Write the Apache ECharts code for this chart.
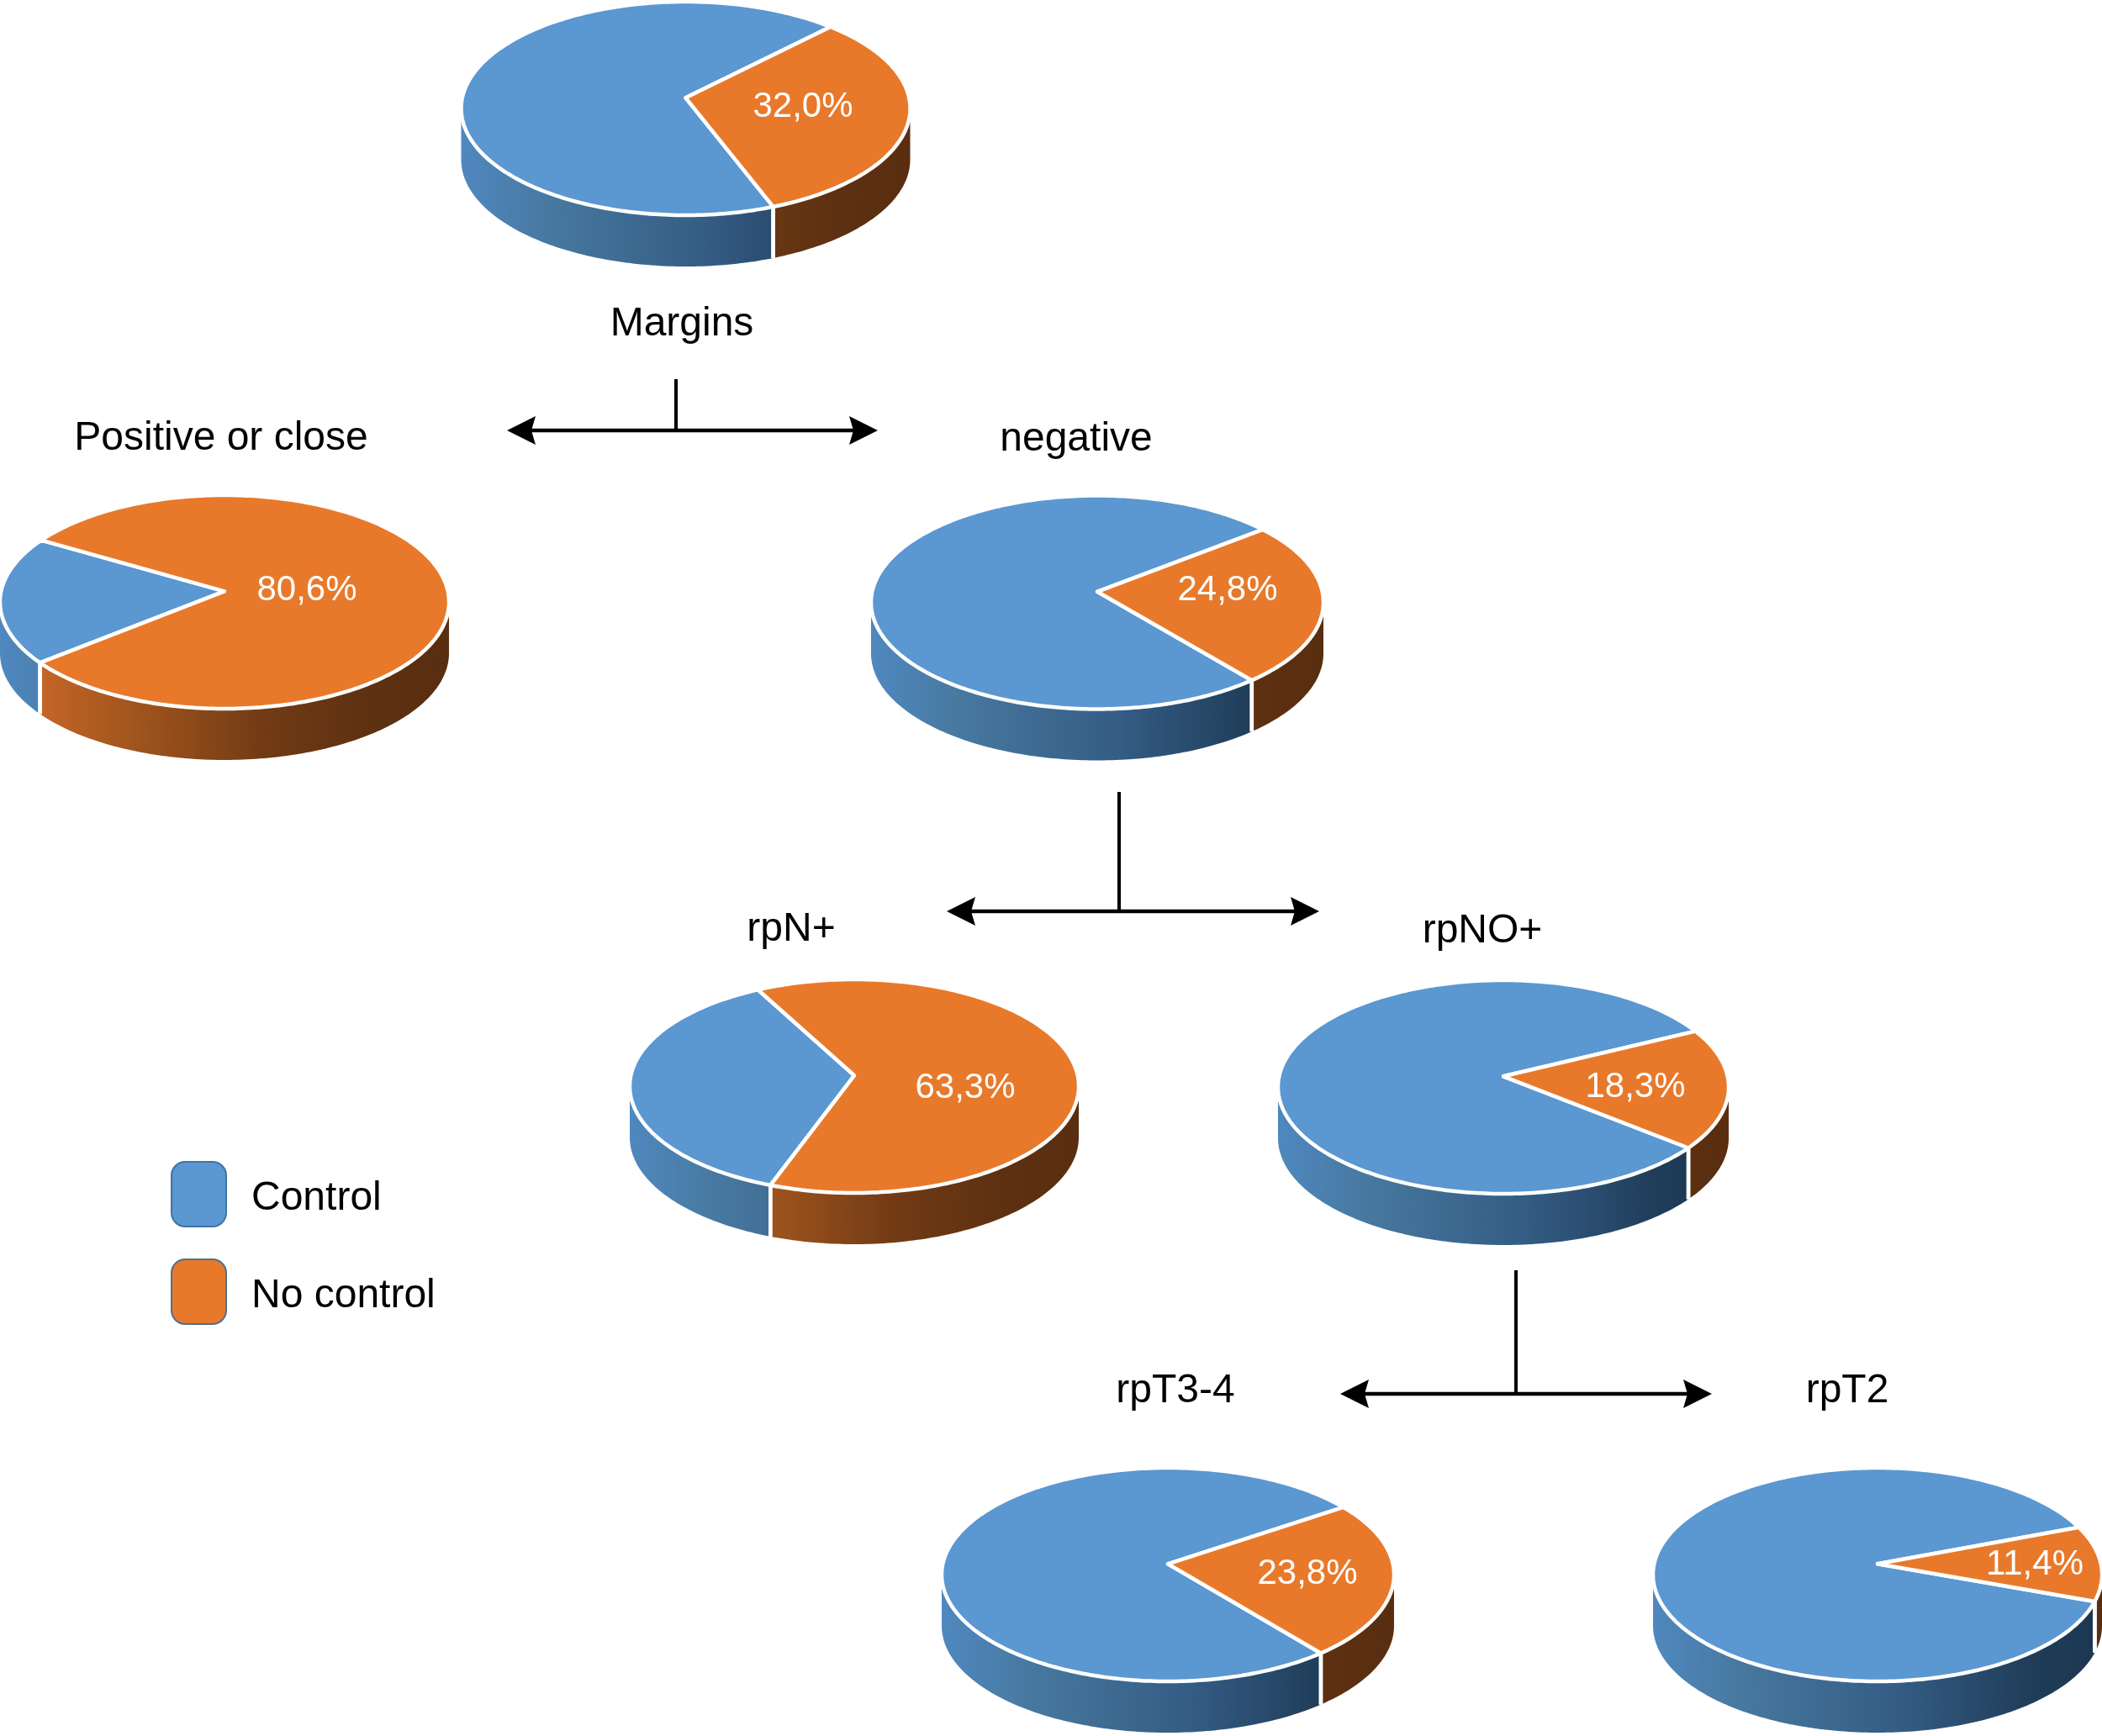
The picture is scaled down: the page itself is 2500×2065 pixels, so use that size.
<!DOCTYPE html>
<html>
<head>
<meta charset="utf-8">
<style>html,body{margin:0;padding:0;background:#fff}#c{width:2500px;height:2065px}</style>
<script src="https://cdn.jsdelivr.net/npm/echarts@6/dist/echarts.min.js"></script>
</head>
<body>
<div id="c"></div>
<script>
// ---- data ----
const pieNames = ['Margins', 'Positive or close', 'negative', 'rpN+', 'rpNO+', 'rpT3-4', 'rpT2'];
const noControl = [32.0, 80.6, 24.8, 63.3, 18.3, 23.8, 11.4];
const control = [68.0, 19.4, 75.2, 36.7, 81.7, 76.2, 88.6];
const seriesNames = ['Control', 'No control'];

// ---- layout (axis units) ----
const startAngle = [44, 300.5, 51.4, 332, 63.5, 55.5, 69];
const centerX = [815.5, 267, 1305, 1016, 1788, 1389, 2233];
const centerY = [129, 716, 716.5, 1292, 1293, 1873, 1873];
const radiusX = [267, 267, 269, 267, 268, 269, 267];
const radiusY = 127, depth = 61, tilt = 0.1;
const percentX = [955, 365, 1460, 1148, 1945, 1555, 2420];
const percentY = [127, 702, 702, 1294, 1293, 1872, 1861];
const nameX = [811, 263, 1280, 941, 1763, 1398, 2197];
const nameY = [386, 522, 523, 1106, 1108, 1655, 1655];
const arrowY = [512, 1084, 1658];
const arrowLeft = [603, 1126, 1594];
const arrowRight = [1044, 1569, 2036];
const stemX = [804, 1331, 1803];
const stemTop = [451, 942, 1511];

const topColor = ['#5b97d1', '#e8792b'];
const wallStops = [
  [[0, '#4f88bf'], [0.2, '#47789f'], [0.55, '#345c84'], [0.85, '#1f3c58'], [1, '#1c3750']],
  [[0, '#d26c2c'], [0.25, '#a9591f'], [0.6, '#703a14'], [0.85, '#5c3011'], [1, '#592e10']]
];

// Projects a true pie angle (deg, clockwise from north) onto the tilted top ellipse.
function project(i, deg) {
  const a = deg * Math.PI / 180, x = Math.sin(a), y = Math.cos(a), d = 1 + tilt * y;
  return [
    centerX[i] + radiusX[i] * x * Math.sqrt(1 - tilt * tilt) / d,
    centerY[i] - radiusY * (y + tilt) / d
  ];
}
function arc(i, a, b) {
  const pts = [], n = Math.max(2, Math.ceil(Math.abs(b - a)));
  for (let k = 0; k <= n; k++) pts.push(project(i, a + (b - a) * k / n));
  return pts;
}

function sliceRender(seriesIdx) {
  return function (params, api) {
    const i = api.value(0), value = api.value(1);
    const orangeStart = startAngle[i], orangeEnd = orangeStart + noControl[i] * 3.6;
    const a = seriesIdx === 1 ? orangeStart : orangeEnd;
    const b = a + value * 3.6;
    const toPx = p => api.coord(p);
    const children = [];
    // side wall: visible part is the front half of the rim
    const lo = Math.acos(-tilt) * 180 / Math.PI, hi = 360 - lo;
    const left = api.coord([centerX[i] - radiusX[i], 0])[0], right = api.coord([centerX[i] + radiusX[i], 0])[0];
    [-360, 0, 360].forEach(shift => {
      const s = Math.max(a, lo + shift), e = Math.min(b, hi + shift);
      if (e <= s) return;
      const rim = arc(i, s, e);
      const down = rim.map(p => [p[0], p[1] + depth]).reverse();
      children.push({
        type: 'polygon', z2: 1, silent: true,
        shape: { points: rim.concat(down).map(toPx) },
        style: {
          fill: {
            type: 'linear', global: true, x: left, y: 0, x2: right, y2: 0,
            colorStops: wallStops[seriesIdx].map(c => ({ offset: c[0], color: c[1] }))
          }
        }
      });
      [s, e].forEach(ang => {
        if (ang === lo + shift || ang === hi + shift) return;
        const p = project(i, ang);
        children.push({
          type: 'line', z2: 2, silent: true,
          shape: (() => { const u = toPx(p), v = toPx([p[0], p[1] + depth]); return { x1: u[0], y1: u[1], x2: v[0], y2: v[1] }; })(),
          style: { stroke: '#ffffff', lineWidth: 4.5 }
        });
      });
    });
    // top face
    const apex = [centerX[i], centerY[i] - radiusY * tilt];
    children.push({
      type: 'polygon', z2: 3, silent: true,
      shape: { points: [apex].concat(arc(i, a, b)).map(toPx) },
      style: { fill: topColor[seriesIdx], stroke: '#ffffff', lineWidth: 4.5, lineJoin: 'round' }
    });
    if (seriesIdx === 1) {
      const t = toPx([percentX[i], percentY[i]]);
      children.push({
        type: 'text', z2: 5, silent: true, x: t[0], y: t[1],
        style: {
          text: noControl[i].toFixed(1).replace('.', ',') + '%',
          fill: '#ffffff', font: '42px "Liberation Sans"', textAlign: 'center', textVerticalAlign: 'middle'
        }
      });
    }
    return { type: 'group', children };
  };
}

function nameRender(params, api) {
  const i = api.value(0), t = api.coord([nameX[i], nameY[i]]);
  return {
    type: 'text', silent: true, x: t[0], y: t[1],
    style: { text: pieNames[i], fill: '#000000', font: '48px "Liberation Sans"', textAlign: 'center', textVerticalAlign: 'middle' }
  };
}

function arrowRender(params, api) {
  const i = api.value(0);
  const l = api.coord([arrowLeft[i], arrowY[i]]), r = api.coord([arrowRight[i], arrowY[i]]);
  const s = api.coord([stemX[i], stemTop[i]]), f = api.coord([stemX[i], arrowY[i]]);
  const mk = (tip, dir) => [
    [tip[0], tip[1]], [tip[0] - dir * 34, tip[1] - 17], [tip[0] - dir * 29, tip[1]], [tip[0] - dir * 34, tip[1] + 17]
  ];
  return {
    type: 'group', children: [
      { type: 'line', silent: true, shape: { x1: l[0] + 20, y1: l[1], x2: r[0] - 20, y2: r[1] }, style: { stroke: '#000', lineWidth: 4.5 } },
      { type: 'line', silent: true, shape: { x1: s[0], y1: s[1], x2: f[0], y2: f[1] }, style: { stroke: '#000', lineWidth: 4 } },
      { type: 'polygon', silent: true, shape: { points: mk(l, -1) }, style: { fill: '#000' } },
      { type: 'polygon', silent: true, shape: { points: mk(r, 1) }, style: { fill: '#000' } }
    ]
  };
}

const chart = echarts.init(document.getElementById('c'), null, { renderer: 'canvas' });
const indexed = vals => vals.map((v, i) => [i, v]);
chart.setOption({
  backgroundColor: '#ffffff',
  animation: false,
  grid: { left: 0, right: 0, top: 0, bottom: 0 },
  xAxis: { type: 'value', min: 0, max: 2500, show: false },
  yAxis: { type: 'value', min: 0, max: 2065, inverse: true, show: false },
  tooltip: { show: false },
  legend: {
    orient: 'vertical', left: 203, top: 1381, padding: 0, itemWidth: 65, itemHeight: 77, itemGap: 37,
    icon: 'roundRect', selectedMode: false, data: seriesNames,
    formatter: name => '{t|' + name + '}',
    textStyle: {
      fontFamily: 'Liberation Sans', fontSize: 48, color: '#000', padding: [0, 0, 0, 25],
      rich: { t: { fontFamily: 'Liberation Sans', fontSize: 48, color: '#000', height: 56, lineHeight: 56, padding: [11, 0, 0, 0] } }
    }
  },
  series: [
    { type: 'custom', name: seriesNames[0], renderItem: sliceRender(0), data: indexed(control), clip: false,
      itemStyle: { color: topColor[0], borderColor: '#3f74a6', borderWidth: 4 } },
    { type: 'custom', name: seriesNames[1], renderItem: sliceRender(1), data: indexed(noControl), clip: false,
      itemStyle: { color: topColor[1], borderColor: '#4f6f8f', borderWidth: 4 } },
    { type: 'custom', name: 'names', renderItem: nameRender, data: pieNames.map((n, i) => [i, n]), clip: false },
    { type: 'custom', name: 'arrows', renderItem: arrowRender, data: arrowY.map((y, i) => [i, y]), clip: false }
  ]
});
</script>
</body>
</html>
